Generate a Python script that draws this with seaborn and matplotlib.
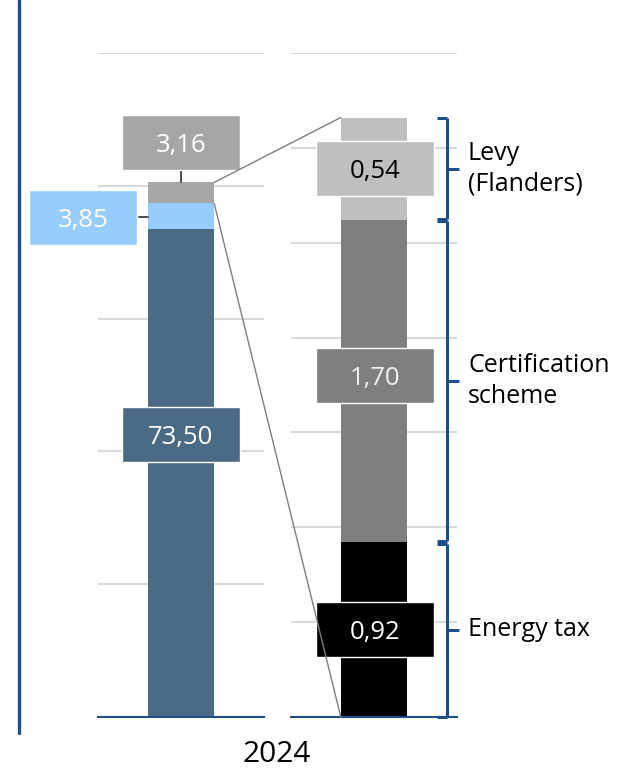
import numpy as np
import pandas as pd
import matplotlib
matplotlib.use("Agg")
import matplotlib.pyplot as plt
import matplotlib.transforms as mtransforms
from matplotlib.patches import Rectangle, ConnectionPatch
from matplotlib.lines import Line2D
import seaborn as sns

# ---------------- data ----------------
year = "2024"
left_components = ["Base", "Network", "Taxes and levies"]
left_values = [73.50, 3.85, 3.16]
left_colors = ["#4a6a86", "#97cdfe", "#a6a6a6"]
left_text_colors = ["white", "white", "white"]

right_components = ["Energy tax", "Certification\nscheme", "Levy\n(Flanders)"]
right_values = [0.92, 1.70, 0.54]
right_colors = ["#000000", "#7f7f7f", "#bfbfbf"]
right_text_colors = ["white", "#f0f0f0", "black"]

left_ticks = [0, 20, 40, 60, 80, 100]
right_ticks = [0, 0.5, 1.0, 1.5, 2.0, 2.5, 3.0, 3.5]

# ---------------- style / layout ----------------
sns.set_theme(style="white")
plt.rcParams["font.family"] = ["Open Sans", "DejaVu Sans"]
BLUE = "#1d4f8a"
GRID = "#d9d9d9"
FS_BOX = 18.5
FS_LAB = 18
FS_YEAR = 21.5
right_box_shift = [0.0, 0.03, 0.0]   # small vertical nudges of label boxes (data units)

W, H = 631, 773
fig = plt.figure(figsize=(W / 100, H / 100), dpi=100)
axL = fig.add_axes([98 / W, 56 / H, 166 / W, 664 / H])
axR = fig.add_axes([291 / W, 56 / H, 166 / W, 664 / H])


def fmt(v):
    return f"{v:.2f}".replace(".", ",")


def stack(ax, values, colors, ticks):
    cum = np.cumsum(values)
    for i in reversed(range(len(values))):
        df = pd.DataFrame({"year": [year], "value": [cum[i]]})
        sns.barplot(data=df, x="year", y="value", color=colors[i], width=0.4,
                    saturation=1, linewidth=0, ax=ax, zorder=3)
    ax.set_xlim(-0.5, 0.5)
    ax.set_ylim(ticks[0], ticks[-1])
    ax.set_yticks(ticks)
    ax.yaxis.grid(True, color=GRID, lw=1.5)
    ax.set_axisbelow(True)
    ax.tick_params(length=0, labelleft=False, labelbottom=False)
    ax.set_xlabel("")
    ax.set_ylabel("")
    for s in ["left", "right", "top"]:
        ax.spines[s].set_visible(False)
    ax.spines["bottom"].set_color(BLUE)
    ax.spines["bottom"].set_linewidth(1.5)
    ax.spines["bottom"].set_zorder(4)
    return cum


cumL = stack(axL, left_values, left_colors, left_ticks)
cumR = stack(axR, right_values, right_colors, right_ticks)


def box(ax, xc, yc, wpx, hpx, text, fc, tc):
    ymax = ax.get_ylim()[1]
    w = wpx / 166
    h = hpx * ymax / 664
    ax.add_patch(Rectangle((xc - w / 2, yc - h / 2), w, h, facecolor=fc,
                           edgecolor="white", lw=1, clip_on=False, zorder=5))
    ax.text(xc, yc, text, ha="center", va="center_baseline", color=tc,
            fontsize=FS_BOX, zorder=6, clip_on=False)
    return w, h


# left labels
w, h = box(axL, 0, 86.5, 118, 55, fmt(left_values[2]), left_colors[2], left_text_colors[2])
axL.plot([0, 0], [86.5 - h / 2, cumL[2]], color="#404040", lw=1.3, zorder=4, clip_on=False)
w, h = box(axL, -0.59, 75.3, 108, 55, fmt(left_values[1]), left_colors[1], left_text_colors[1])
axL.plot([-0.59 + w / 2, -0.2], [75.3, 75.3], color="#404040", lw=1.3, zorder=4, clip_on=False)
box(axL, 0, 42.5, 118, 55, fmt(left_values[0]), left_colors[0], left_text_colors[0])

# right labels
startsR = cumR - np.array(right_values)
midsR = startsR + np.array(right_values) / 2
for i in range(len(right_values)):
    box(axR, 0.005, midsR[i] + right_box_shift[i], 118, 55, fmt(right_values[i]),
        right_colors[i], right_text_colors[i])

# connecting lines between the bars
for (ya, yb) in [(cumL[2], cumR[-1]), (cumL[1], 0)]:
    con = ConnectionPatch(xyA=(0.2, ya), coordsA=axL.transData,
                          xyB=(-0.2, yb), coordsB=axR.transData,
                          color="#7f7f7f", lw=1.0, zorder=2)
    fig.add_artist(con)

# brackets
tr = mtransforms.blended_transform_factory(fig.transFigure, axR.transData)
gap = 0.006
for i in range(len(right_values)):
    lo = startsR[i] + (gap if i > 0 else 0)
    hi = cumR[i] - (gap if i < len(right_values) - 1 else 0)
    mid = midsR[i]
    xb, xh, xt = 447 / W, 437 / W, 459 / W
    for xs, ys in [([xb, xb], [lo, hi]), ([xh, xb], [hi, hi]), ([xh, xb], [lo, lo]),
                   ([xb, xt], [mid, mid])]:
        fig.add_artist(Line2D(xs, ys, transform=tr, color=BLUE, lw=2.2,
                              solid_capstyle="butt"))
    fig.text(468 / W, mid, right_components[i], transform=tr, ha="left",
             va="center", fontsize=FS_LAB, color="black", linespacing=1.3)

# left vertical line
fig.add_artist(Line2D([18.5 / W, 18.5 / W], [1, 1 - 733 / H], transform=fig.transFigure,
                      color=BLUE, lw=2.4))

fig.text(277 / W, 1 - 755 / H, year, ha="center", va="center", fontsize=FS_YEAR,
         color="black")

fig.savefig("out.png", dpi=100)
